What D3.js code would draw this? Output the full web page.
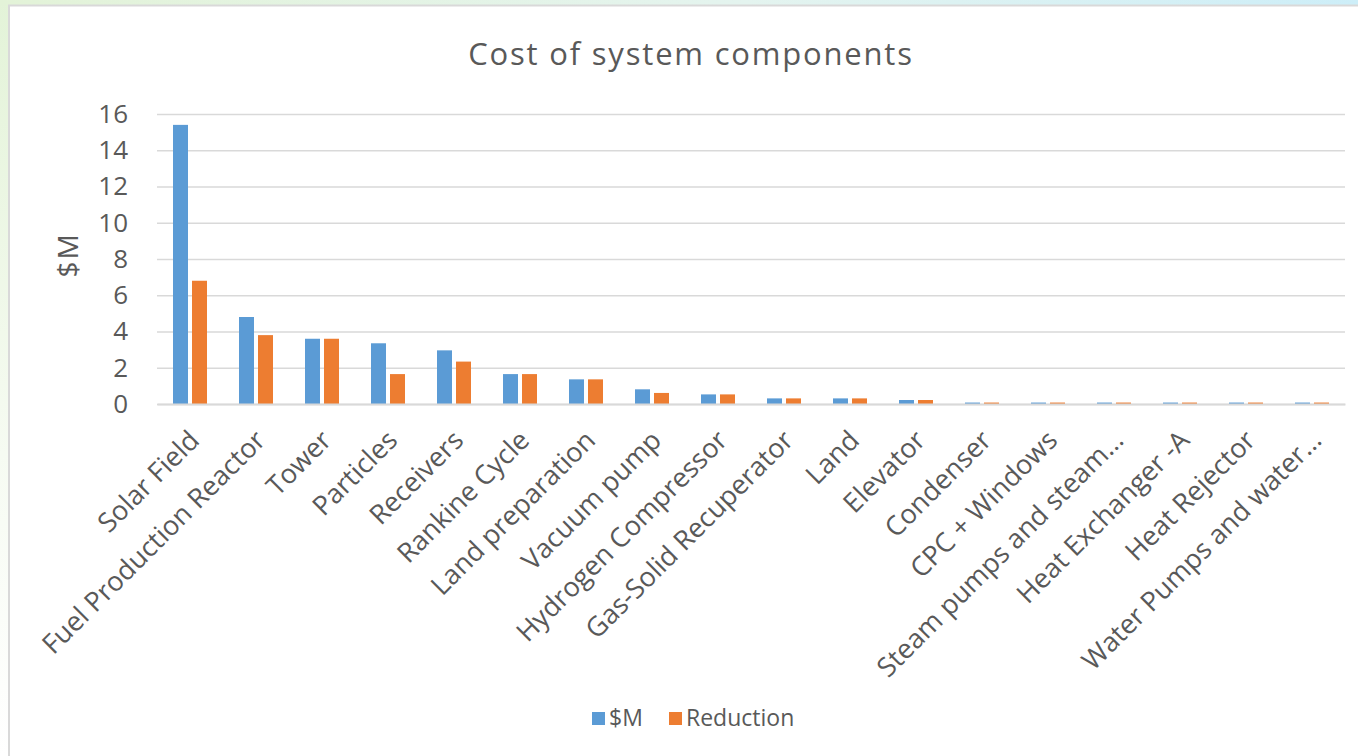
<!DOCTYPE html>
<html>
<head>
<meta charset="utf-8">
<script src="https://cdn.jsdelivr.net/npm/d3@7"></script>
<style>
  html, body { margin: 0; padding: 0; background: #fff; }
  svg { display: block; }
  text { font-family: "Open Sans", "Noto Sans", sans-serif; fill: #595959; }
</style>
</head>
<body>
<svg id="chart" width="1358" height="756"></svg>
<script>
// Component names and costs ($M)
const categories = [
  "Solar Field", "Fuel Production Reactor", "Tower", "Particles", "Receivers",
  "Rankine Cycle", "Land preparation", "Vacuum pump", "Hydrogen Compressor",
  "Gas-Solid Recuperator", "Land", "Elevator", "Condenser", "CPC + Windows",
  "Steam pumps and steam…", "Heat Exchanger -A", "Heat Rejector", "Water Pumps and water…"
];
const costM = [15.4, 4.8, 3.6, 3.35, 2.96, 1.65, 1.36, 0.81, 0.53, 0.31, 0.31, 0.22, 0.08, 0.08, 0.08, 0.08, 0.08, 0.08];
const reduction = [6.8, 3.8, 3.6, 1.65, 2.34, 1.65, 1.36, 0.61, 0.53, 0.31, 0.31, 0.22, 0.08, 0.08, 0.08, 0.08, 0.08, 0.08];
const seriesNames = ["$M", "Reduction"];
const yTicks = [0, 2, 4, 6, 8, 10, 12, 14, 16];

const colors = ["#5b9bd5", "#ed7d31"];
const W = 1358, H = 756;
const svg = d3.select("#chart");

// Slide backdrop around the chart card
const defs = svg.append("defs");
const topGrad = defs.append("linearGradient").attr("id", "topGrad");
topGrad.append("stop").attr("offset", "0%").attr("stop-color", "#e3f3d8");
topGrad.append("stop").attr("offset", "55%").attr("stop-color", "#e4f4ef");
topGrad.append("stop").attr("offset", "100%").attr("stop-color", "#cdeef8");
const leftGrad = defs.append("linearGradient").attr("id", "leftGrad")
  .attr("x1", 0).attr("y1", 0).attr("x2", 0).attr("y2", 1);
leftGrad.append("stop").attr("offset", "0%").attr("stop-color", "#e3f3d8");
leftGrad.append("stop").attr("offset", "60%").attr("stop-color", "#f6fbf2");
leftGrad.append("stop").attr("offset", "100%").attr("stop-color", "#ffffff");
svg.append("rect").attr("x", 0).attr("y", 0).attr("width", 10).attr("height", H).attr("fill", "url(#leftGrad)");
svg.append("rect").attr("x", 0).attr("y", 0).attr("width", W).attr("height", 6).attr("fill", "url(#topGrad)");

// Chart card
svg.append("rect")
  .attr("x", 9).attr("y", 5.5).attr("width", W + 10).attr("height", H + 10)
  .attr("fill", "#ffffff").attr("stroke", "#d9d9d9").attr("stroke-width", 2);

const margin = { left: 157, right: 13, top: 114, bottom: 352 };
const plotW = W - margin.left - margin.right;
const plotH = H - margin.top - margin.bottom;

const x0 = d3.scaleBand().domain(categories).range([margin.left, margin.left + plotW]);
const half = x0.bandwidth() / 2;
const x1 = d3.scaleBand().domain(seriesNames).range([half - 17, half + 17]).paddingInner(4 / 19);
const y = d3.scaleLinear().domain([0, 16]).range([margin.top + plotH, margin.top]);

// Title
svg.append("text")
  .attr("x", 691).attr("y", 65)
  .attr("text-anchor", "middle")
  .style("font-size", "31px")
  .style("letter-spacing", "1.8px")
  .text("Cost of system components");

// Gridlines and y-axis labels
const yAxis = d3.axisLeft(y).tickValues(yTicks).tickSize(-plotW).tickPadding(29).tickFormat(d3.format("d"));
const gy = svg.append("g").attr("transform", `translate(${margin.left},0)`).call(yAxis);
gy.select(".domain").remove();
gy.selectAll(".tick line").attr("stroke", "#d9d9d9").attr("stroke-width", 1.5);
gy.selectAll(".tick text").style("font-size", "26px").attr("fill", "#595959")
  .style("font-family", "\"Open Sans\", sans-serif");

// Y-axis title
svg.append("text")
  .attr("transform", "translate(78, 255) rotate(-90)")
  .attr("text-anchor", "middle")
  .style("font-size", "28px")
  .style("letter-spacing", "2px")
  .text("$M");

// Bars
const rows = categories.map((c, i) => ({ c, vals: [costM[i], reduction[i]] }));
const groups = svg.append("g").selectAll("g").data(rows).join("g")
  .attr("transform", d => `translate(${x0(d.c)},0)`);
groups.selectAll("rect").data(d => d.vals.map((v, j) => ({ v, s: seriesNames[j], j })))
  .join("rect")
  .attr("x", d => x1(d.s))
  .attr("width", x1.bandwidth())
  .attr("y", d => y(d.v))
  .attr("height", d => y(0) - y(d.v))
  .attr("fill", d => colors[d.j]);

// Category axis baseline and labels
const xAxis = d3.axisBottom(x0).tickSize(0).tickPadding(0);
const gx = svg.append("g").attr("transform", `translate(0,${y(0)})`).call(xAxis);
gx.select(".domain").attr("stroke", "#d9d9d9").attr("stroke-width", 2);
gx.selectAll(".tick text")
  .style("font-size", "27px")
  .attr("fill", "#595959")
  .style("font-family", "\"Open Sans\", sans-serif")
  .attr("text-anchor", "end")
  .attr("dy", null).attr("y", 0)
  .attr("transform", `translate(${half - 22}, 38) rotate(-45)`);

// Legend
const legend = svg.append("g").attr("transform", "translate(592, 718)");
const items = [{ name: seriesNames[0], x: 0 }, { name: seriesNames[1], x: 77 }];
items.forEach((it, i) => {
  legend.append("rect").attr("x", it.x).attr("y", -6).attr("width", 13).attr("height", 13).attr("fill", colors[i]);
  legend.append("text").attr("x", it.x + 17).attr("y", 8).style("font-size", "23px").text(it.name);
});
</script>
</body>
</html>
